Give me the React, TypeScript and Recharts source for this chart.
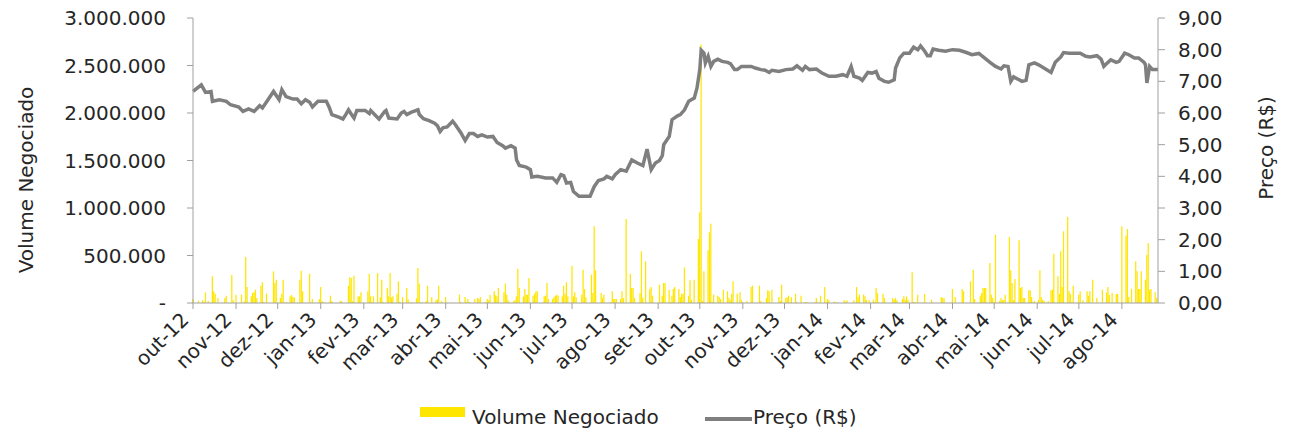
import React from 'react';
import { ComposedChart, Bar, Line, XAxis, YAxis, Legend, Label } from 'recharts';

const monthLabels = [
  'out-12', 'nov-12', 'dez-12', 'jan-13', 'fev-13', 'mar-13', 'abr-13', 'mai-13',
  'jun-13', 'jul-13', 'ago-13', 'set-13', 'out-13', 'nov-13', 'dez-13', 'jan-14',
  'fev-14', 'mar-14', 'abr-14', 'mai-14', 'jun-14', 'jul-14', 'ago-14',
];

// volume negociado per trading day (weekdays), in thousands, one list per month
const volOut12 = [42, 0, 0, 0, 25, 30, 10, 112, 0, 20, 281, 123, 98, 0, 53, 5, 0, 53, 77, 0, 295, 30, 0];
const volNov12 = [88, 0, 88, 0, 15, 484, 168, 70, 105, 112, 140, 53, 182, 218, 10, 0, 98, 0, 0, 333, 210, 246];
const volDez12 = [53, 98, 246, 0, 10, 70, 85, 63, 60, 0, 246, 340, 123, 0, 0, 309, 5, 42, 0, 0, 42];
const volJan13 = [168, 20, 5, 5, 5, 77, 20, 0, 0, 0, 20, 20, 0, 0, 182, 270, 263, 20, 288, 70, 70, 112, 0];
const volFev13 = [0, 123, 309, 70, 5, 70, 316, 0, 60, 246, 10, 158, 70, 316, 60, 70, 98, 228, 10, 0];
const volMar13 = [63, 158, 40, 5, 5, 5, 50, 368, 204, 0, 10, 20, 182, 0, 0, 63, 30, 40, 182, 0, 20];
const volAbr13 = [63, 5, 0, 0, 3, 0, 0, 0, 88, 10, 63, 10, 42, 10, 3, 42, 0, 53, 42, 63, 5, 10];
const volMai13 = [42, 30, 88, 123, 82, 70, 158, 0, 112, 204, 88, 30, 10, 20, 30, 70, 361, 158, 70, 147, 88, 88, 263];
const volJun13 = [77, 98, 123, 123, 0, 5, 70, 77, 210, 42, 42, 60, 77, 88, 77, 70, 182, 98, 218, 70];
const volJul13 = [393, 70, 112, 60, 0, 88, 351, 147, 60, 0, 298, 105, 807, 344, 0, 105, 53, 88, 0, 0, 10, 123, 42];
const volAgo13 = [42, 42, 42, 123, 53, 0, 884, 309, 158, 158, 53, 0, 105, 544, 53, 0, 439, 147, 168, 77, 0, 0];
const volSet13 = [193, 5, 77, 210, 210, 140, 10, 77, 150, 168, 147, 63, 98, 98, 375, 77, 239, 35, 0, 246, 674];
const volOut13 = [954, 2720, 20, 333, 554, 744, 835, 10, 88, 77, 63, 42, 0, 140, 123, 53, 30, 98, 228, 98, 0, 112, 35];
const volNov13 = [5, 20, 0, 0, 168, 182, 0, 0, 182, 20, 0, 53, 133, 123, 0, 140, 0, 0, 63, 20, 193];
const volDez13 = [53, 60, 77, 0, 60, 98, 10, 0, 0, 77, 10, 10, 5, 0, 0, 10, 53, 5, 0, 77, 168, 10];
const volJan14 = [42, 28, 0, 15, 5, 5, 0, 0, 28, 15, 28, 0, 0, 28, 0, 168, 60, 88, 88, 70, 35, 0, 28];
const volFev14 = [35, 10, 158, 105, 5, 98, 53, 5, 0, 0, 53, 35, 53, 28, 0, 42, 70, 35, 70, 35];
const volMar14 = [323, 10, 10, 0, 88, 5, 0, 95, 0, 0, 35, 5, 0, 0, 0, 63, 53, 50, 0, 0, 5];
const volAbr14 = [147, 0, 63, 0, 0, 147, 123, 0, 0, 228, 0, 351, 42, 0, 70, 105, 158, 158, 158, 421, 88, 53];
const volMai14 = [10, 719, 20, 53, 30, 30, 88, 695, 344, 210, 30, 253, 660, 158, 168, 53, 53, 133, 133, 63, 10, 20];
const volJun14 = [35, 344, 63, 35, 20, 20, 0, 133, 140, 519, 281, 98, 544, 168, 754, 905, 123, 95, 10, 182, 5];
const volJul14 = [88, 123, 0, 28, 123, 77, 123, 0, 246, 53, 0, 0, 0, 140, 112, 168, 88, 0, 105, 95, 95, 0, 0];
const volAgo14 = [807, 709, 779, 63, 0, 147, 439, 333, 147, 147, 333, 246, 509, 632, 140, 147, 112, 53];

const monthlyVolumes = [
  volOut12, volNov12, volDez12, volJan13, volFev13, volMar13, volAbr13, volMai13,
  volJun13, volJul13, volAgo13, volSet13, volOut13, volNov13, volDez13, volJan14,
  volFev14, volMar14, volAbr14, volMai14, volJun14, volJul14, volAgo14,
];

// preço (R$): [days since 01/10/2012, price]
const precoOut12Mar13: [number, number][] = [
  [0, 6.68], [6, 6.89], [9, 6.65], [13, 6.68], [14, 6.37], [19, 6.42], [24, 6.37], [27, 6.26],
  [33, 6.19], [36, 6.05], [40, 6.13], [44, 6.05], [48, 6.23], [50, 6.16], [54, 6.42], [58, 6.68],
  [62, 6.42], [64, 6.74], [67, 6.52], [72, 6.44], [75, 6.44], [78, 6.29], [81, 6.42], [84, 6.34],
  [86, 6.19], [90, 6.37], [96, 6.37], [98, 6.19], [100, 5.95], [105, 5.87], [108, 5.81], [110, 5.95],
  [112, 6.1], [115, 5.9], [116, 5.84], [118, 6.08], [124, 6.08], [127, 5.98], [128, 6.08], [132, 5.9],
  [134, 5.81], [138, 6.05], [139, 6.08], [141, 5.84], [147, 5.81], [150, 6.0], [152, 6.05], [154, 5.95],
  [157, 6.02], [162, 6.1], [163, 5.95], [166, 5.82], [170, 5.76], [174, 5.68], [176, 5.6], [178, 5.42],
];
const precoAbr13Set13: [number, number][] = [
  [180, 5.53], [183, 5.56], [187, 5.74], [189, 5.63], [193, 5.37], [196, 5.13], [199, 5.35], [202, 5.35],
  [205, 5.26], [208, 5.31], [212, 5.24], [216, 5.26], [219, 5.07], [223, 4.97], [225, 4.89], [229, 4.97],
  [232, 4.89], [233, 4.52], [235, 4.34], [240, 4.29], [243, 4.21], [244, 3.98], [248, 4.0], [254, 3.95],
  [259, 3.95], [262, 3.81], [265, 4.05], [267, 4.02], [269, 3.79], [272, 3.81], [274, 3.52], [278, 3.37],
  [283, 3.37], [286, 3.37], [289, 3.68], [292, 3.87], [296, 3.92], [298, 4.0], [302, 3.92], [304, 4.05],
  [308, 4.21], [312, 4.16], [316, 4.52], [320, 4.42], [324, 4.34], [327, 4.86], [330, 4.21], [333, 4.42],
  [336, 4.5], [338, 4.65], [339, 5.0], [343, 5.26], [345, 5.79], [349, 5.91], [351, 5.95], [354, 6.1],
  [357, 6.37], [361, 6.47], [363, 6.79],
];
const precoOut13Mar14: [number, number][] = [
  [365, 7.37], [366, 7.98], [368, 7.89], [369, 7.58], [371, 7.79], [373, 7.47], [375, 7.63], [378, 7.7],
  [381, 7.63], [385, 7.6], [387, 7.56], [390, 7.37], [392, 7.37], [395, 7.47], [398, 7.47], [402, 7.47],
  [405, 7.42], [409, 7.37], [412, 7.35], [415, 7.28], [417, 7.35], [422, 7.31], [427, 7.37], [432, 7.39],
  [435, 7.49], [437, 7.42], [439, 7.35], [441, 7.47], [444, 7.37], [449, 7.39], [453, 7.26], [458, 7.16],
  [463, 7.16], [468, 7.21], [471, 7.16], [474, 7.47], [476, 7.16], [480, 7.1], [482, 7.03], [486, 7.28],
  [489, 7.26], [492, 7.31], [494, 7.1], [498, 7.0], [501, 6.97], [505, 7.05], [506, 7.42], [509, 7.74],
  [512, 7.89], [516, 7.89], [519, 8.08], [522, 8.0], [524, 8.12], [527, 7.95], [529, 7.81], [531, 7.81],
];
const precoAbr14Ago14: [number, number][] = [
  [533, 8.02], [537, 7.98], [542, 7.95], [547, 8.0], [552, 7.98], [557, 7.91], [561, 7.84], [566, 7.88],
  [570, 7.74], [574, 7.6], [578, 7.47], [582, 7.39], [584, 7.49], [587, 7.47], [589, 7.0], [591, 7.14],
  [595, 7.05], [597, 7.0], [600, 7.03], [602, 7.52], [606, 7.58], [609, 7.52], [614, 7.39], [618, 7.28],
  [621, 7.6], [625, 7.77], [627, 7.91], [631, 7.89], [636, 7.89], [639, 7.89], [643, 7.79], [646, 7.77],
  [651, 7.81], [654, 7.7], [656, 7.47], [659, 7.6], [661, 7.68], [665, 7.6], [667, 7.63], [671, 7.89],
  [674, 7.84], [678, 7.74], [681, 7.74], [685, 7.6], [686, 7.52], [687, 6.95], [689, 7.47], [691, 7.37],
  [695, 7.37],
];

const volumeTicks = [0, 500000, 1000000, 1500000, 2000000, 2500000, 3000000];
const priceTicks = [0, 1, 2, 3, 4, 5, 6, 7, 8, 9];

const START = Date.UTC(2012, 9, 1);
const dayOf = (y: number, m: number, d: number) => Math.round((Date.UTC(y, m, d) - START) / 86400000);
const monthTicks = monthLabels.map((_, i) => dayOf(2012, 9 + i, 1));
const LAST_DAY = 695;

type Row = { day: number; volume?: number; price?: number };
const rows = new Map<number, Row>();
monthlyVolumes.forEach((vals, i) => {
  const m = 9 + i;
  const len = new Date(Date.UTC(2012, m + 1, 0)).getUTCDate();
  let k = 0;
  for (let d = 1; d <= len; d++) {
    const wd = new Date(Date.UTC(2012, m, d)).getUTCDay();
    if (wd === 0 || wd === 6) continue;
    if (k < vals.length) {
      const day = dayOf(2012, m, d);
      rows.set(day, { day, volume: vals[k] * 1000 });
    }
    k++;
  }
});
[...precoOut12Mar13, ...precoAbr13Set13, ...precoOut13Mar14, ...precoAbr14Ago14].forEach(([day, price]) => {
  const r = rows.get(day) || { day };
  r.price = price;
  rows.set(day, r);
});
const data = [...rows.values()].sort((a, b) => a.day - b.day);

const FONT = 'DejaVu Sans';
const TEXT = '#262626';
const AXIS = '#a0a0a0';

const fmtVolume = (v: number) => (v === 0 ? '-' : String(v).replace(/\B(?=(\d{3})+(?!\d))/g, '.'));
const fmtPrice = (v: number) => v.toFixed(2).replace('.', ',');

function MonthTick(props: any) {
  const { x, y, payload } = props;
  const label = monthLabels[monthTicks.indexOf(payload.value)];
  const ax = x - 3;
  const ay = y + 10;
  return (
    <text x={ax} y={ay} textAnchor="end" transform={`rotate(-45 ${ax} ${ay})`}
      fontSize={20} fill={TEXT} fontFamily={FONT}>
      {label}
    </text>
  );
}

function LegendBox() {
  const item: React.CSSProperties = { position: 'absolute', whiteSpace: 'nowrap' };
  return (
    <div style={{ position: 'relative', width: 1295, height: 30, fontFamily: FONT, fontSize: 20, color: TEXT }}>
      <span style={{ ...item, left: 420, top: 4, width: 45, height: 10, background: '#FFE600' }} />
      <span style={{ ...item, left: 472, top: 2, lineHeight: '24px' }}>Volume Negociado</span>
      <span style={{ ...item, left: 705, top: 14, width: 47, height: 4, background: '#7f7f7f' }} />
      <span style={{ ...item, left: 753, top: 2, lineHeight: '24px' }}>Preço (R$)</span>
    </div>
  );
}

export default function App() {
  return (
    <div style={{ position: 'absolute', left: 0, top: 0, width: 1295, height: 437, background: '#fff' }}>
      <ComposedChart width={1295} height={437} data={data}
        margin={{ top: 18, right: 0, bottom: 0, left: 0 }} style={{ fontFamily: FONT }}>
        <XAxis dataKey="day" type="number" domain={[0, LAST_DAY]} ticks={monthTicks} interval={0}
          height={134} tickSize={6} tick={<MonthTick />}
          axisLine={{ stroke: AXIS }} tickLine={{ stroke: AXIS }} />
        <YAxis yAxisId="vol" domain={[0, 3000000]} ticks={volumeTicks} width={193}
          tickFormatter={fmtVolume} tickSize={6} tickMargin={21} interval={0}
          tick={{ fontSize: 20, fill: TEXT, fontFamily: FONT }}
          axisLine={{ stroke: AXIS }} tickLine={{ stroke: AXIS }}>
          <Label content={() => (
            <text x={33} y={180} transform="rotate(-90 33 180)" textAnchor="middle"
              fontSize={20} fill={TEXT} fontFamily={FONT}>Volume Negociado</text>
          )} />
        </YAxis>
        <YAxis yAxisId="preco" orientation="right" domain={[0, 9]} ticks={priceTicks} width={137}
          tickFormatter={fmtPrice} tickSize={7} tickMargin={13} interval={0}
          tick={{ fontSize: 20, fill: TEXT, fontFamily: FONT }}
          axisLine={{ stroke: AXIS }} tickLine={{ stroke: AXIS }}>
          <Label content={() => (
            <text x={1273} y={148} transform="rotate(-90 1273 148)" textAnchor="middle"
              fontSize={20} fill={TEXT} fontFamily={FONT}>Preço (R$)</text>
          )} />
        </YAxis>
        <Legend layout="horizontal" verticalAlign="middle" align="center"
          wrapperStyle={{ top: 403, left: 0, width: 1295, height: 30 }} content={() => <LegendBox />} />
        <Bar yAxisId="vol" dataKey="volume" name="Volume Negociado" fill="#FFE600"
          barSize={1.5} isAnimationActive={false} />
        <Line yAxisId="preco" dataKey="price" name="Preço (R$)" type="linear" stroke="#7f7f7f"
          strokeWidth={3.5} dot={false} connectNulls isAnimationActive={false} />
      </ComposedChart>
    </div>
  );
}
